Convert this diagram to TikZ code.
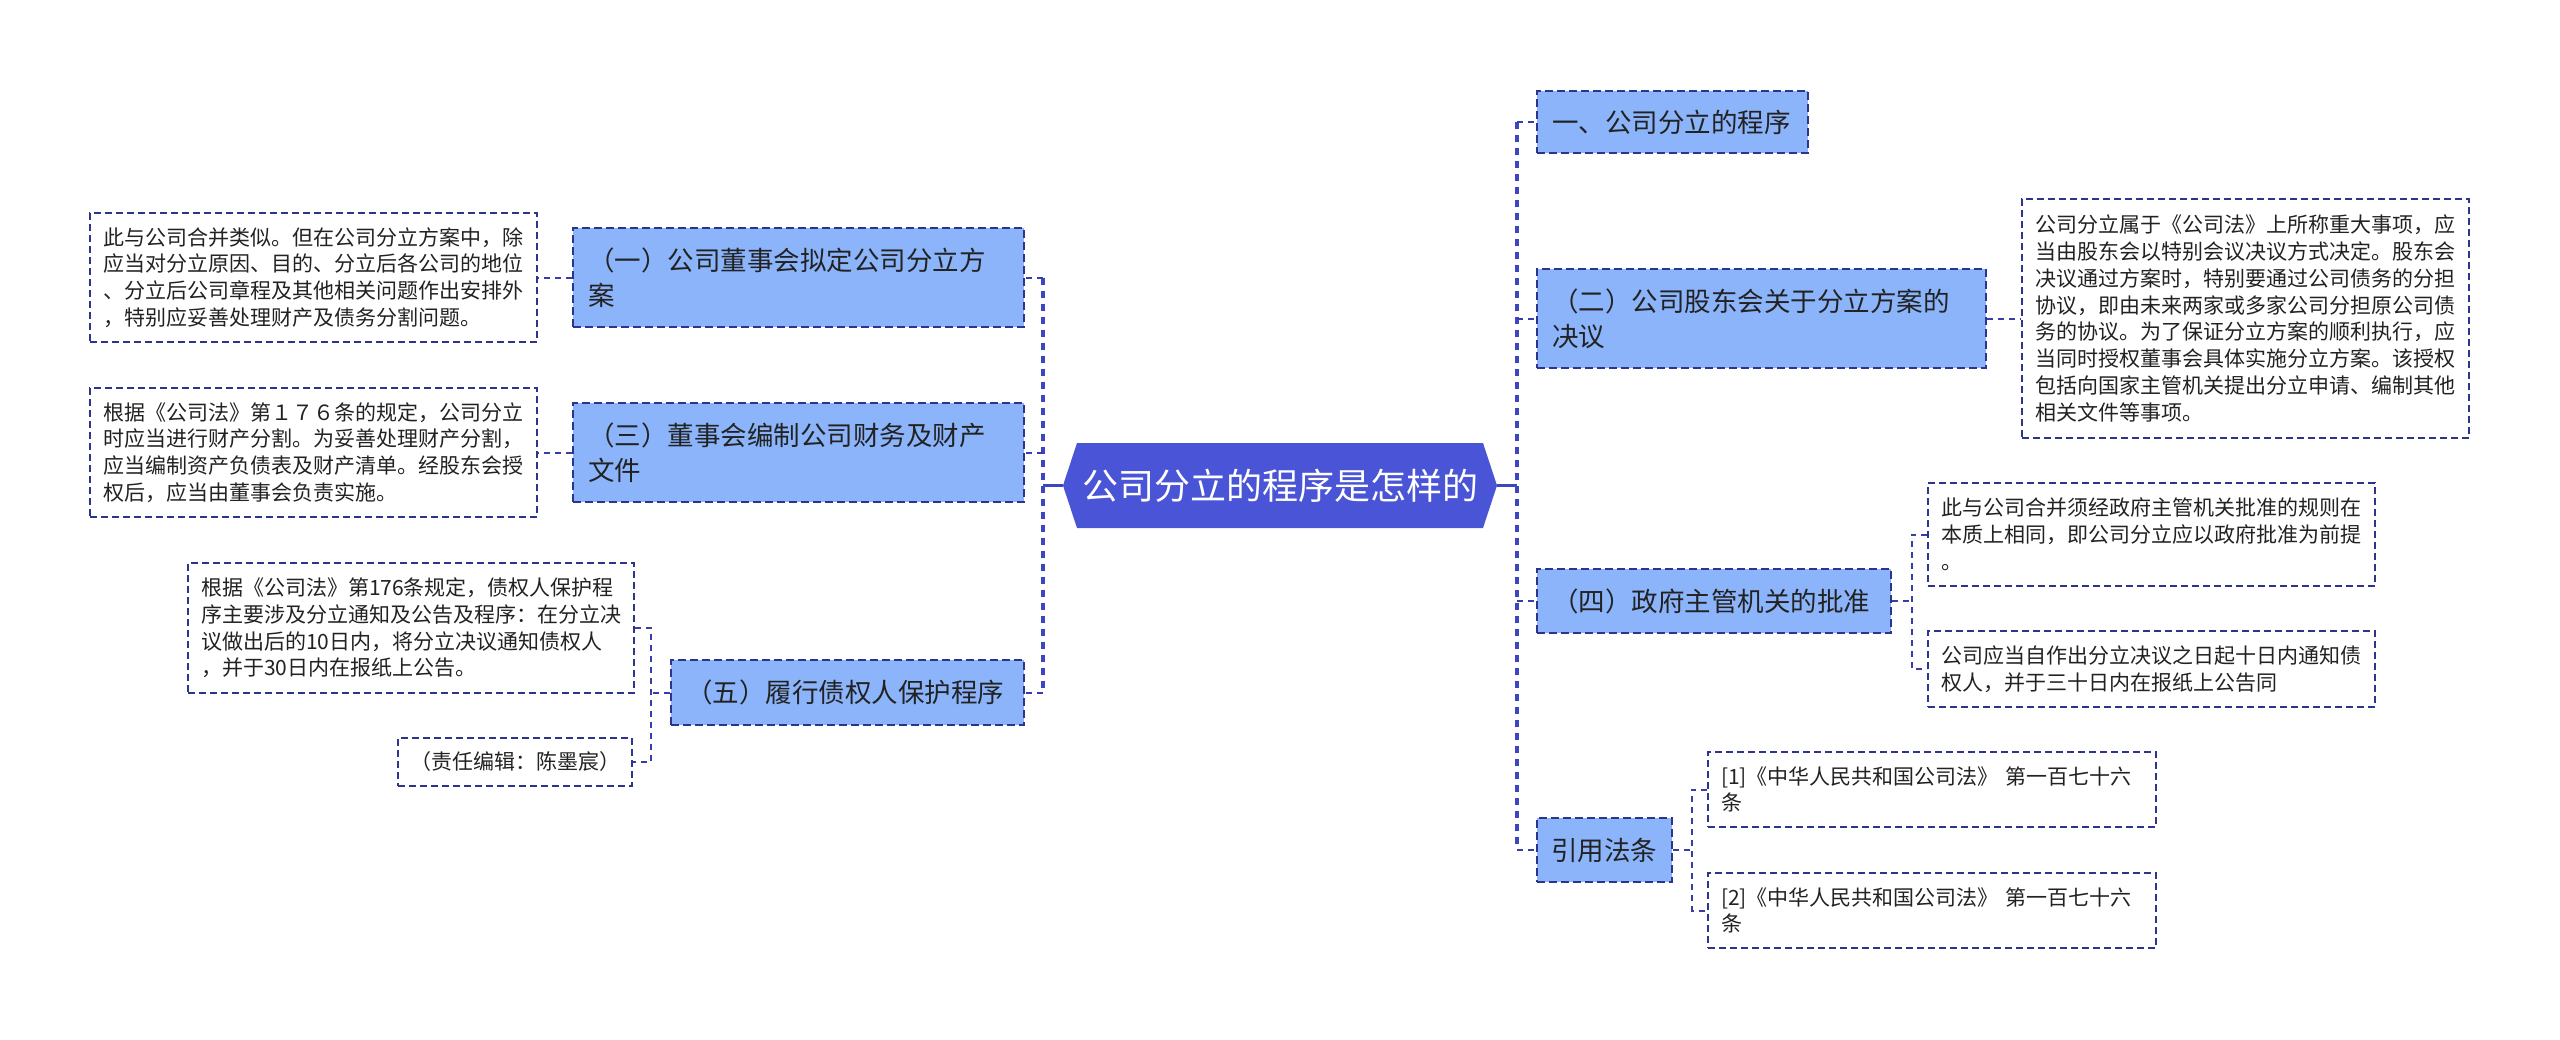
\documentclass[tikz,border=0pt]{standalone}
\usepackage{fontspec}
\setmainfont{Noto Sans CJK SC}
\definecolor{cfill}{RGB}{74,84,214}
\definecolor{lvfill}{RGB}{139,180,250}
\definecolor{bordc}{RGB}{45,52,140}
\definecolor{linec}{RGB}{55,62,165}
\definecolor{trunkc}{RGB}{60,70,190}
\definecolor{txt}{RGB}{34,34,34}
\tikzset{
 lvltwo/.style={fill=lvfill, draw=bordc, line width=1.5pt, dash pattern=on 8pt off 4pt, inner xsep=15pt, inner ysep=0pt, align=left, text=txt, font=\fontsize{26.5}{35}\selectfont},
 leaf/.style={fill=white, draw=bordc, line width=1.5pt, dash pattern=on 7pt off 4pt, inner xsep=13pt, inner ysep=0pt, align=left, text=txt, font=\fontsize{21}{26.8}\selectfont},
 branch/.style={draw=linec, line width=2pt, dash pattern=on 6pt off 5pt},
 trunk/.style={draw=trunkc, line width=3.5pt, dash pattern=on 7pt off 6pt},
 solidlink/.style={draw=trunkc, line width=3pt},
}
\begin{document}
\begin{tikzpicture}[x=1pt,y=-1pt]
\fill[white] (0,0) rectangle (2560,1039);
\useasboundingbox (0,0) rectangle (2560,1039);

% centre
\fill[cfill] (1063,485.5) -- (1077,443) -- (1483,443) -- (1497,485.5) -- (1483,528) -- (1077,528) -- cycle;
\node[font=\fontsize{36}{44}\selectfont, text=white, minimum width=406pt, minimum height=85pt, inner sep=0pt] (c) at (1280,485.5) {公司分立的程序是怎样的};
\coordinate (cl) at (1063,485.5);
\coordinate (cr) at (1497,485.5);
\coordinate (tR) at (1517,485.5);
\coordinate (tL) at (1043,485.5);
\coordinate (s4) at (1912,0);
\coordinate (s7) at (1692,0);
\coordinate (s3) at (651,0);

% right side
\node[lvltwo, text width=241pt, minimum height=62pt] (R1) at (1672.5,122) {一、公司分立的程序};
\node[lvltwo, text width=419pt, minimum height=99pt] (R2) at (1761.5,318.5) {（二）公司股东会关于分立方案的\\决议};
\node[leaf, text width=421pt, minimum height=239pt] (R3) at (2245.5,318.5) {公司分立属于《公司法》上所称重大事项，应\\当由股东会以特别会议决议方式决定。股东会\\决议通过方案时，特别要通过公司债务的分担\\协议，即由未来两家或多家公司分担原公司债\\务的协议。为了保证分立方案的顺利执行，应\\当同时授权董事会具体实施分立方案。该授权\\包括向国家主管机关提出分立申请、编制其他\\相关文件等事项。};
\node[lvltwo, text width=324pt, minimum height=64pt] (R4) at (1714,601) {（四）政府主管机关的批准};
\node[leaf, text width=421pt, minimum height=103pt] (R5) at (2151.5,534.5) {此与公司合并须经政府主管机关批准的规则在\\本质上相同，即公司分立应以政府批准为前提\\。};
\node[leaf, text width=421pt, minimum height=76pt] (R6) at (2151.5,669) {公司应当自作出分立决议之日起十日内通知债\\权人，并于三十日内在报纸上公告同};
\node[lvltwo, inner xsep=14pt, text width=107pt, minimum height=64pt] (R7) at (1604.5,850) {引用法条};
\node[leaf, text width=422pt, minimum height=75pt] (R8) at (1932,789.5) {[1]《中华人民共和国公司法》 第一百七十六\\条};
\node[leaf, text width=422pt, minimum height=75pt] (R9) at (1932,910.5) {[2]《中华人民共和国公司法》 第一百七十六\\条};

% left side
\node[lvltwo, text width=421pt, minimum height=99pt] (L1) at (798.5,277.5) {（一）公司董事会拟定公司分立方\\案};
\node[leaf, text width=421pt, minimum height=129pt] (LT1) at (313.5,277.5) {此与公司合并类似。但在公司分立方案中，除\\应当对分立原因、目的、分立后各公司的地位\\、分立后公司章程及其他相关问题作出安排外\\，特别应妥善处理财产及债务分割问题。};
\node[lvltwo, text width=421pt, minimum height=99pt] (L2) at (798.5,452.5) {（三）董事会编制公司财务及财产\\文件};
\node[leaf, text width=421pt, minimum height=129pt] (LT2) at (313.5,452.5) {根据《公司法》第１７６条的规定，公司分立\\时应当进行财产分割。为妥善处理财产分割，\\应当编制资产负债表及财产清单。经股东会授\\权后，应当由董事会负责实施。};
\node[lvltwo, text width=323pt, minimum height=65pt] (L3) at (847.5,692.5) {（五）履行债权人保护程序};
\node[leaf, text width=420pt, minimum height=130pt] (LT3) at (411,628) {根据《公司法》第176条规定，债权人保护程\\序主要涉及分立通知及公告及程序：在分立决\\议做出后的10日内，将分立决议通知债权人\\，并于30日内在报纸上公告。};
\node[leaf, inner xsep=12pt, text width=210pt, minimum height=48pt] (LT4) at (515,762) {（责任编辑：陈墨宸）};

% connectors right
\draw[solidlink] (cr) -- (tR);
\draw[trunk] (tR |- R1.west) -- (tR |- R7.west);
\draw[branch] (tR |- R1.west) -- (R1.west);
\draw[branch] (tR |- R2.west) -- (R2.west);
\draw[branch] (tR |- R4.west) -- (R4.west);
\draw[branch] (tR |- R7.west) -- (R7.west);
\draw[branch] (R2.east) -- (R3.west);
\draw[branch] (R4.east) -- (s4 |- R4.east);
\draw[branch] (R5.west) -- (s4 |- R5.west) -- (s4 |- R6.west) -- (R6.west);
\draw[branch] (R7.east) -- (s7 |- R7.east);
\draw[branch] (R8.west) -- (s7 |- R8.west) -- (s7 |- R9.west) -- (R9.west);

% connectors left
\draw[solidlink] (cl) -- (tL);
\draw[trunk] (tL |- L1.east) -- (tL |- L3.east);
\draw[branch] (tL |- L1.east) -- (L1.east);
\draw[branch] (tL |- L2.east) -- (L2.east);
\draw[branch] (tL |- L3.east) -- (L3.east);
\draw[branch] (L1.west) -- (LT1.east);
\draw[branch] (L2.west) -- (LT2.east);
\draw[branch] (L3.west) -- (s3 |- L3.west);
\draw[branch] (LT3.east) -- (s3 |- LT3.east) -- (s3 |- LT4.east) -- (LT4.east);
\end{tikzpicture}
\end{document}
